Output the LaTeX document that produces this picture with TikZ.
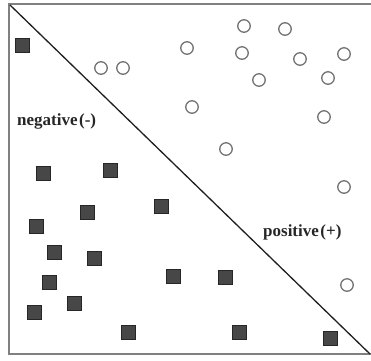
\documentclass[tikz,border=0pt]{standalone}
\usepackage{fontspec}
\setmainfont{Liberation Serif}
\begin{document}
\begin{tikzpicture}[x=1pt,y=-1pt,
  sq/.style={draw=black!85,fill=black!72,line width=0.6pt,minimum size=14pt,inner sep=0pt,rectangle},
  circ/.style={draw=black!55,fill=white,line width=1.3pt,circle,minimum size=12.5pt,inner sep=0pt},
  lbl/.style={font=\fontsize{17}{19}\selectfont\bfseries,text=black!85,inner sep=0pt,anchor=west},
  frame/.style={draw=black!50,line width=1.8pt},
  sep/.style={draw=black!88,line width=1.3pt}]
\useasboundingbox (0,0) rectangle (371,360);
\clip (0,0) rectangle (371,360);
\fill[white] (0,0) rectangle (371,360);
\draw[frame] (9,4) rectangle (380,354);
\coordinate (tl) at (10,5);
\coordinate (br) at (370,354);
\draw[sep] (tl) -- (br);
% squares
\foreach \x/\y [count=\i] in {22/45,43/173,110/170,87/212,161/206,36/226,54/252,94/258,173/276,49/282,74/303,34/312,128/332,225/277,239/332,330/338}
  \node[sq] (s\i) at (\x,\y) {};
% circles
\foreach \x/\y [count=\i] in {101/68,123/68,244/26,285/29,187/48,242/53,300/59,344/54,259/80,328/78,192/107,324/117,226/149,344/187,347/285}
  \node[circ] (c\i) at (\x,\y) {};
\node[lbl] (neg) at (17,121) {negative\kern1.5pt(-)};
\node[lbl] (pos) at (263,232) {positive\kern1.5pt(+)};
\end{tikzpicture}
\end{document}
